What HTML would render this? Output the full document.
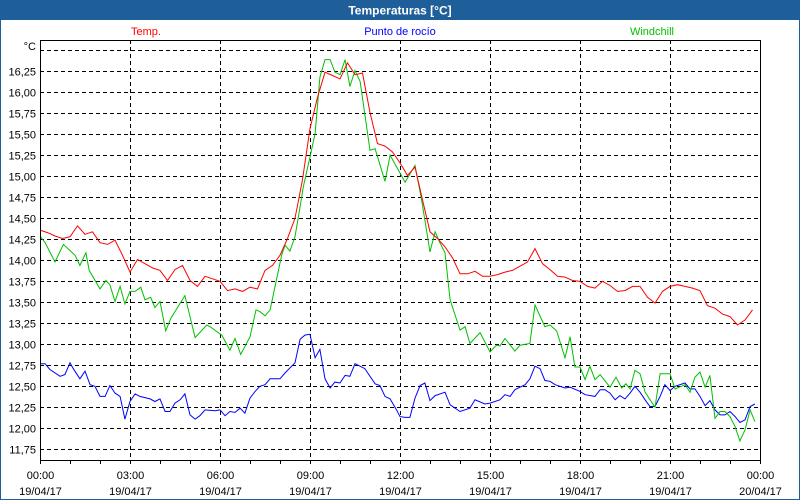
<!DOCTYPE html>
<html><head><meta charset="utf-8"><style>
html,body{margin:0;padding:0;background:#fff;}
svg{display:block;font-family:"Liberation Sans",sans-serif;}
</style></head><body>
<svg id="chart" width="800" height="500" viewBox="0 0 800 500">
<rect x="0" y="0" width="800" height="500" fill="#fff" stroke="#1f5f99" stroke-width="2"/>
<rect x="0" y="0" width="800" height="20" fill="#1f5f99"/>
<text x="400" y="14.5" text-anchor="middle" fill="#fff" font-weight="bold" font-size="12">Temperaturas [°C]</text>
<text x="146" y="35" text-anchor="middle" fill="#ff0000" font-size="11">Temp.</text>
<text x="400" y="35" text-anchor="middle" fill="#0000ff" font-size="11">Punto de rocío</text>
<text x="652" y="35" text-anchor="middle" fill="#00c000" font-size="11">Windchill</text>
<text x="36" y="50" text-anchor="end" font-size="11" fill="#000">°C</text>
<g id="grid"></g><g id="series"></g><g id="axes"></g>
</svg>
<script>
const yTicks=[11.75,12.00,12.25,12.50,12.75,13.00,13.25,13.50,13.75,14.00,14.25,14.50,14.75,15.00,15.25,15.50,15.75,16.00,16.25,16.50];
const xTickHours=[0,3,6,9,12,15,18,21,24];
const xTickTimes=["00:00","03:00","06:00","09:00","12:00","15:00","18:00","21:00","00:00"];
const xTickDates=["19/04/17","19/04/17","19/04/17","19/04/17","19/04/17","19/04/17","19/04/17","19/04/17","20/04/17"];
const tempValues=[14.35,14.32,14.28,14.25,14.27,14.40,14.30,14.33,14.20,14.18,14.23,14.05,13.85,14.00,13.95,13.90,13.87,13.75,13.88,13.93,13.75,13.68,13.80,13.77,13.74,13.63,13.65,13.62,13.67,13.65,13.87,13.93,14.05,14.25,14.49,14.95,15.56,15.93,16.23,16.19,16.15,16.34,16.20,16.22,15.75,15.38,15.35,15.28,15.15,15.00,15.10,14.71,14.33,14.25,14.15,14.02,13.83,13.83,13.86,13.80,13.80,13.82,13.85,13.87,13.92,13.97,14.13,13.95,13.88,13.80,13.79,13.75,13.74,13.68,13.66,13.74,13.69,13.62,13.63,13.68,13.68,13.55,13.48,13.62,13.68,13.70,13.68,13.66,13.63,13.45,13.42,13.35,13.32,13.22,13.28,13.40];
const windHours=[0,0.17,0.5,0.78,1.17,1.33,1.53,1.64,2.0,2.2,2.33,2.5,2.67,2.83,3.0,3.17,3.36,3.5,3.69,3.83,4.0,4.19,4.36,4.83,5.17,5.56,5.67,5.94,6.06,6.33,6.5,6.69,7.0,7.2,7.33,7.5,7.67,8.06,8.17,8.33,8.5,8.67,8.78,9.0,9.17,9.33,9.5,9.67,9.83,10.0,10.17,10.33,10.5,10.67,11.0,11.17,11.5,11.67,12.0,12.17,12.5,12.72,13.0,13.17,13.33,13.5,13.67,14.0,14.17,14.33,14.67,15.0,15.22,15.33,15.5,15.83,16.0,16.33,16.5,16.83,17.0,17.22,17.5,17.67,17.83,18.0,18.17,18.33,18.5,18.67,19.0,19.2,19.39,19.53,19.67,19.83,20.0,20.17,20.5,20.67,21.0,21.17,21.5,21.67,21.83,22.0,22.17,22.33,22.5,22.67,22.83,23.0,23.17,23.33,23.5,23.67,23.83];
const windValues=[14.28,14.20,13.97,14.18,14.05,13.93,14.08,13.87,13.65,13.75,13.70,13.50,13.68,13.47,13.62,13.62,13.67,13.52,13.55,13.43,13.50,13.15,13.30,13.57,13.07,13.22,13.20,13.13,13.10,12.92,13.06,12.87,13.08,13.40,13.38,13.33,13.40,14.06,14.17,14.10,14.27,14.63,14.87,15.22,15.50,16.17,16.38,16.38,16.23,16.20,16.38,16.06,16.25,16.12,15.30,15.32,14.93,15.24,15.03,14.92,15.12,14.71,14.09,14.33,14.20,14.08,13.52,13.16,13.20,13.00,13.13,12.90,12.98,12.97,13.06,12.91,12.98,13.00,13.46,13.20,13.22,13.15,12.83,13.08,12.72,12.72,12.57,12.73,12.57,12.63,12.48,12.60,12.47,12.52,12.46,12.68,12.64,12.42,12.24,12.64,12.64,12.46,12.51,12.42,12.60,12.66,12.48,12.62,12.11,12.19,12.19,12.13,12.01,11.84,11.97,12.21,12.07];
const dewHours=[0,0.17,0.33,0.67,0.83,1.0,1.11,1.33,1.5,1.67,1.83,2.0,2.17,2.33,2.5,2.67,2.83,3.0,3.17,3.33,3.67,3.83,4.0,4.17,4.33,4.5,4.67,4.83,5.0,5.17,5.33,5.5,5.83,6.0,6.17,6.33,6.5,6.67,6.83,7.0,7.17,7.33,7.5,7.67,7.83,8.0,8.17,8.5,8.67,8.83,9.0,9.17,9.33,9.5,9.67,9.83,10.0,10.17,10.33,10.5,10.67,10.83,11.17,11.33,11.5,11.67,11.9,12.0,12.17,12.33,12.5,12.67,12.83,13.0,13.17,13.5,13.67,14.0,14.33,14.5,14.83,15.0,15.33,15.5,15.67,15.83,16.17,16.33,16.5,16.67,16.83,17.0,17.17,17.5,17.67,18.0,18.17,18.5,18.67,18.83,19.0,19.17,19.33,19.5,19.67,19.83,20.0,20.17,20.33,20.5,20.67,20.83,21.0,21.17,21.5,21.67,21.83,22.0,22.17,22.33,22.5,22.67,22.83,23.0,23.17,23.33,23.5,23.67,23.83];
const dewValues=[12.76,12.76,12.69,12.61,12.63,12.77,12.70,12.58,12.67,12.51,12.49,12.37,12.37,12.50,12.41,12.37,12.10,12.31,12.40,12.37,12.34,12.31,12.34,12.19,12.19,12.29,12.33,12.40,12.15,12.10,12.14,12.21,12.20,12.21,12.14,12.19,12.18,12.23,12.17,12.35,12.43,12.49,12.51,12.58,12.58,12.58,12.65,12.77,13.05,13.10,13.11,12.83,12.93,12.58,12.47,12.54,12.53,12.62,12.61,12.76,12.73,12.70,12.52,12.50,12.37,12.34,12.20,12.13,12.12,12.12,12.35,12.50,12.53,12.32,12.38,12.42,12.27,12.19,12.23,12.33,12.28,12.29,12.33,12.39,12.37,12.45,12.51,12.58,12.73,12.70,12.56,12.55,12.51,12.47,12.48,12.43,12.39,12.37,12.45,12.45,12.41,12.33,12.38,12.34,12.41,12.49,12.42,12.33,12.25,12.25,12.37,12.51,12.44,12.49,12.53,12.46,12.46,12.37,12.26,12.32,12.21,12.15,12.15,12.19,12.13,12.06,12.09,12.25,12.28];

const NS="http://www.w3.org/2000/svg";
const L=40,R=760,T=40,B=460;
function xScale(h){return L+(h/24)*(R-L);}
function yScale(v){return 70.5+(16.25-v)*84;}
function mk(tag,attrs,parent){const e=document.createElementNS(NS,tag);for(const k in attrs)e.setAttribute(k,attrs[k]);parent.appendChild(e);return e;}
const grid=document.getElementById('grid'),axes=document.getElementById('axes'),series=document.getElementById('series');

yTicks.forEach((v,i)=>{
  const y=Math.round(yScale(v))+0.5;
  const ln=mk('line',{x1:L,x2:R,y1:y,y2:y,stroke:'#000','stroke-width':1,'stroke-dasharray':'4,3'},grid);
  
  
  if(v<16.5){
    const t=mk('text',{x:36,y:y+4,'text-anchor':'end','font-size':11,fill:'#000'},axes);
    t.textContent=v.toFixed(2).replace('.',',');
    
    
  }
});
xTickHours.forEach((h,i)=>{
  const x=Math.round(xScale(h))+0.5;
  if(h>0&&h<24){
    const ln=mk('line',{x1:x,x2:x,y1:T,y2:B,stroke:'#000','stroke-width':1,'stroke-dasharray':'4,3'},grid);
    
    
  }
  const t1=mk('text',{x:x,y:479,'text-anchor':'middle','font-size':11,fill:'#000'},axes);
  t1.textContent=xTickTimes[i];
  
  
  const t2=mk('text',{x:x,y:495,'text-anchor':'middle','font-size':11,fill:'#000'},axes);
  t2.textContent=xTickDates[i];
  
  
});
for(let h=0;h<=24;h++){
  const x=Math.round(xScale(h))+0.5;
  const tk=mk('line',{x1:x,x2:x,y1:B,y2:B+4,stroke:'#000','stroke-width':1},axes);
  
  
}
const box=mk('rect',{x:L+0.5,y:T+0.5,width:R-L,height:B-T,fill:'none',stroke:'#000','stroke-width':1},axes);



function drawLine(hours,vals,color,name){
  const pts=vals.map((v,i)=>xScale(hours[i]).toFixed(1)+','+yScale(v).toFixed(1)).join(' ');
  const p=mk('polyline',{points:pts,fill:'none',stroke:color,'stroke-width':1},series);
  
  
}
const tempHours=tempValues.map((v,i)=>i*0.25);
drawLine(dewHours,dewValues,'#0000ff','dew-point-line');
drawLine(windHours,windValues,'#00c000','windchill-line');
drawLine(tempHours,tempValues,'#ff0000','temp-line');
</script>
</body></html>
